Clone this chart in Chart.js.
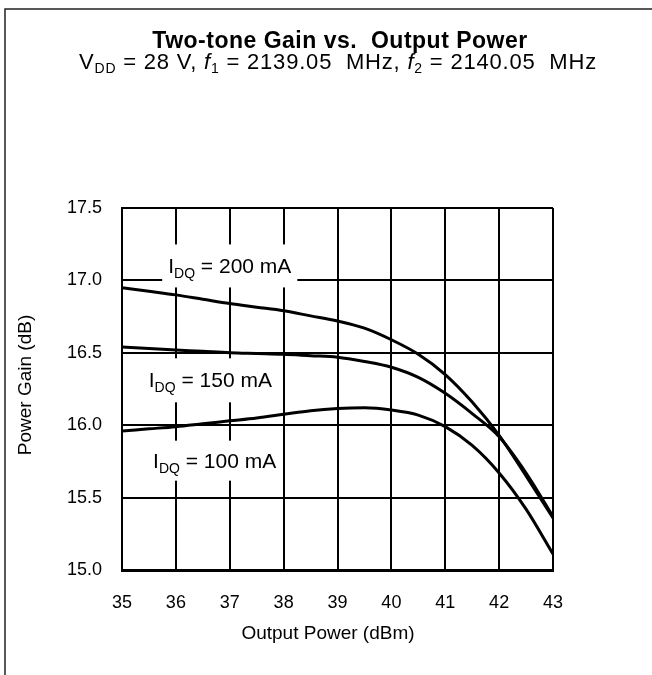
<!DOCTYPE html>
<html>
<head>
<meta charset="utf-8">
<script src="https://cdn.jsdelivr.net/npm/chart.js@4.4.1/dist/chart.umd.min.js"></script>
<style>
  html, body { margin: 0; padding: 0; background: #fff; }
  #wrap { width: 652px; height: 675px; }
</style>
</head>
<body>
<div id="wrap"><canvas id="gainChart" width="652" height="675"></canvas></div>
<script>
// Output power (dBm) and gain readings (dB) per quiescent current
const outputPower = [35, 35.5, 36, 36.5, 37, 37.5, 38, 38.5, 39, 39.5, 40, 40.5, 41, 41.5, 42, 42.5, 43];
const gain200mA = [16.95, 16.925, 16.90, 16.87, 16.84, 16.815, 16.79, 16.755, 16.72, 16.67, 16.59, 16.49, 16.35, 16.16, 15.93, 15.65, 15.36];
const gain150mA = [16.54, 16.53, 16.52, 16.51, 16.50, 16.495, 16.49, 16.48, 16.47, 16.44, 16.40, 16.33, 16.22, 16.08, 15.92, 15.67, 15.37];
const gain100mA = [15.96, 15.975, 15.99, 16.01, 16.03, 16.05, 16.075, 16.10, 16.115, 16.12, 16.105, 16.07, 15.99, 15.86, 15.67, 15.42, 15.11];
const currentLabels = ['200', '150', '100'];

const FONT = '"Liberation Sans", Arial, sans-serif';

const toPoints = ys => outputPower.map((x, i) => ({ x: x, y: ys[i] }));

// draws text made of pieces (normal, subscript, italic), centred on cx
function drawPieces(ctx, pieces, cx, baseline) {
  let total = 0;
  pieces.forEach(p => {
    ctx.font = p.font;
    p.w = ctx.measureText(p.t).width;
    total += p.w;
  });
  let x = cx - total / 2;
  ctx.textAlign = 'left';
  ctx.textBaseline = 'alphabetic';
  pieces.forEach(p => {
    ctx.font = p.font;
    ctx.fillText(p.t, x, baseline + (p.dy || 0));
    x += p.w;
  });
  return total;
}

const reg = size => `${size}px ${FONT}`;
const ital = size => `italic ${size}px ${FONT}`;

const decorPlugin = {
  id: 'decor',
  beforeDraw(chart) {
    const ctx = chart.ctx;
    ctx.save();
    ctx.fillStyle = '#fff';
    ctx.fillRect(0, 0, chart.width, chart.height);
    // outer frame (left and top edges only, the rest is cut off)
    ctx.strokeStyle = '#222';
    ctx.lineWidth = 1.5;
    ctx.beginPath();
    ctx.moveTo(chart.width, 9);
    ctx.lineTo(5, 9);
    ctx.lineTo(5, chart.height);
    ctx.stroke();

    ctx.fillStyle = '#000';
    ctx.letterSpacing = '0.5px';
    ctx.font = `bold 23px ${FONT}`;
    ctx.textAlign = 'center';
    ctx.textBaseline = 'alphabetic';
    ctx.fillText('Two-tone Gain vs.  Output Power', 340, 48);

    ctx.letterSpacing = '0.8px';
    drawPieces(ctx, [
      { t: 'V', font: reg(22) },
      { t: 'DD', font: reg(14), dy: 4 },
      { t: ' = 28 V, ', font: reg(22) },
      { t: 'f', font: ital(22) },
      { t: '1', font: reg(14), dy: 4 },
      { t: ' = 2139.05  MHz, ', font: reg(22) },
      { t: 'f', font: ital(22) },
      { t: '2', font: reg(14), dy: 4 },
      { t: ' = 2140.05  MHz', font: reg(22) }
    ], 338, 69);
    ctx.letterSpacing = '0px';

    // axis titles
    ctx.font = reg(19);
    ctx.textAlign = 'center';
    ctx.fillText('Output Power (dBm)', 328, 639);
    ctx.save();
    ctx.translate(31, 385);
    ctx.rotate(-Math.PI / 2);
    ctx.fillText('Power Gain (dB)', 0, 0);
    ctx.restore();
    ctx.restore();
  },
  beforeDatasetsDraw(chart) {
    const ctx = chart.ctx;
    const xs = chart.scales.x, ys = chart.scales.y;
    const spots = [
      { x: 37.0, y: 17.10, h: 43 },
      { x: 36.64, y: 16.31, h: 44 },
      { x: 36.72, y: 15.755, h: 40 }
    ];
    ctx.save();
    spots.forEach((s, i) => {
      const cx = xs.getPixelForValue(s.x);
      const cy = ys.getPixelForValue(s.y);
      const pieces = [
        { t: 'I', font: reg(21) },
        { t: 'DQ', font: reg(14), dy: 5 },
        { t: ` = ${currentLabels[i]} mA`, font: reg(21) }
      ];
      let w = 0;
      pieces.forEach(p => { ctx.font = p.font; w += ctx.measureText(p.t).width; });
      ctx.fillStyle = '#fff';
      ctx.fillRect(cx - w / 2 - 6, cy - s.h / 2, w + 12, s.h);
      ctx.fillStyle = '#000';
      drawPieces(ctx, pieces, cx, cy + 7);
    });
    ctx.restore();
  }
};

const lineStyle = {
  borderColor: '#000',
  borderWidth: 3,
  pointRadius: 0,
  fill: false,
  cubicInterpolationMode: 'monotone'
};

new Chart(document.getElementById('gainChart'), {
  type: 'line',
  data: {
    datasets: [
      Object.assign({ label: 'IDQ = 200 mA', data: toPoints(gain200mA) }, lineStyle),
      Object.assign({ label: 'IDQ = 150 mA', data: toPoints(gain150mA) }, lineStyle),
      Object.assign({ label: 'IDQ = 100 mA', data: toPoints(gain100mA) }, lineStyle)
    ]
  },
  options: {
    responsive: false,
    animation: false,
    devicePixelRatio: 1,
    layout: { padding: { left: 0, top: 208, right: 99, bottom: 0 } },
    plugins: {
      legend: { display: false },
      tooltip: { enabled: false },
      title: { display: false }
    },
    scales: {
      x: {
        type: 'linear',
        min: 35,
        max: 43,
        afterFit: s => { s.height = 675 - 570; },
        ticks: { stepSize: 1, color: '#000', font: { family: FONT, size: 18 }, padding: 22 },
        grid: { color: '#000', lineWidth: 2, drawTicks: false },
        border: { color: '#000', width: 3 }
      },
      y: {
        min: 15,
        max: 17.5,
        afterFit: s => { s.width = 122; },
        ticks: { stepSize: 0.5, color: '#000', font: { family: FONT, size: 18 }, padding: 20,
          callback: v => v.toFixed(1) },
        grid: { color: '#000', lineWidth: 2, drawTicks: false },
        border: { color: '#000', width: 2 }
      }
    }
  },
  plugins: [decorPlugin]
});
</script>
</body>
</html>
